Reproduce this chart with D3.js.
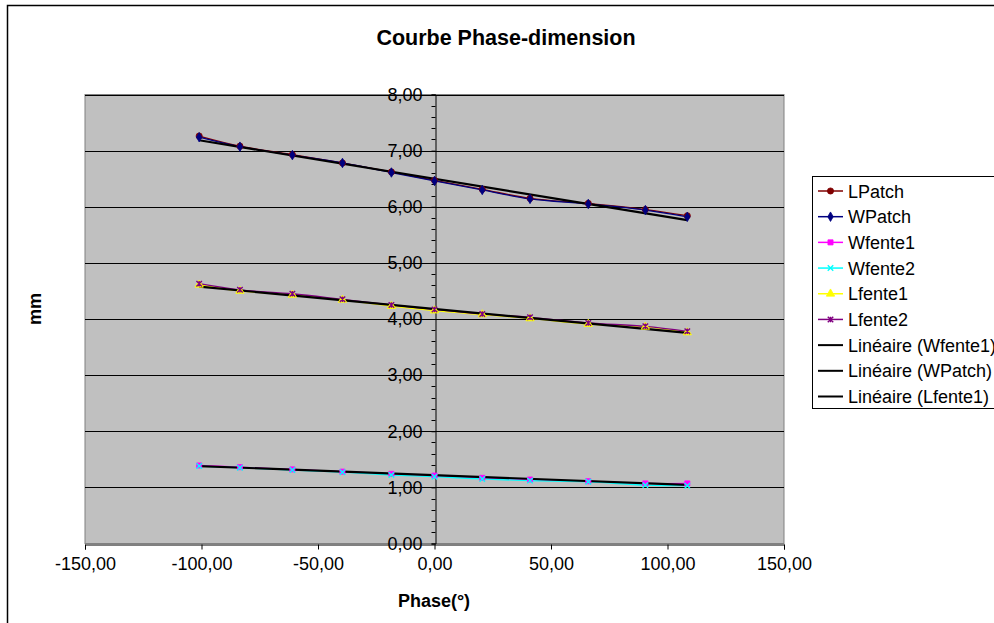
<!DOCTYPE html>
<html>
<head>
<meta charset="utf-8">
<script src="https://cdn.jsdelivr.net/npm/d3@7"></script>
<style>
  html, body { margin: 0; padding: 0; background: #fff; }
  svg { display: block; font-family: "Liberation Sans", Arial, sans-serif; }
</style>
</head>
<body>
<svg id="chart" width="994" height="623"></svg>
<script>
// ---- data ----
const phase = [-101, -83.5, -61, -39.5, -18.5, 0, 20.5, 41, 66, 90.5, 108.5];
const LPatch  = [7.26, 7.08, 6.93, 6.78, 6.62, 6.47, 6.31, 6.15, 6.06, 5.95, 5.84];
const WPatch  = [7.24, 7.07, 6.92, 6.78, 6.61, 6.46, 6.30, 6.14, 6.05, 5.94, 5.82];
const Wfente1 = [1.39, 1.36, 1.32, 1.28, 1.24, 1.21, 1.17, 1.14, 1.11, 1.07, 1.07];
const Wfente2 = [1.38, 1.35, 1.31, 1.27, 1.22, 1.19, 1.15, 1.12, 1.10, 1.04, 1.03];
const Lfente1 = [4.61, 4.50, 4.43, 4.34, 4.23, 4.15, 4.08, 4.01, 3.91, 3.86, 3.76];
const Lfente2 = [4.63, 4.52, 4.45, 4.35, 4.25, 4.17, 4.09, 4.03, 3.93, 3.87, 3.78];
const xTicks = [-150, -100, -50, 0, 50, 100, 150];
const yTicks = [0, 1, 2, 3, 4, 5, 6, 7, 8];
const seriesNames = ["LPatch", "WPatch", "Wfente1", "Wfente2", "Lfente1", "Lfente2"];
const trendNames = ["Wfente1", "WPatch", "Lfente1"];

const seriesValues = { LPatch, WPatch, Wfente1, Wfente2, Lfente1, Lfente2 };
const colors = { LPatch: "#800000", WPatch: "#000080", Wfente1: "#FF00FF", Wfente2: "#00FFFF", Lfente1: "#FFFF00", Lfente2: "#800080" };

// custom symbols
const symX = { draw(ctx, size) { const r = Math.sqrt(size) / 2; ctx.moveTo(-r, -r); ctx.lineTo(r, r); ctx.moveTo(r, -r); ctx.lineTo(-r, r); } };
const symStar = { draw(ctx, size) { const r = Math.sqrt(size) / 2; ctx.moveTo(-r, -r); ctx.lineTo(r, r); ctx.moveTo(r, -r); ctx.lineTo(-r, r); ctx.moveTo(0, -r); ctx.lineTo(0, r); } };
const markers = {
  LPatch:  { type: d3.symbolCircle, size: 30, fill: true },
  WPatch:  { type: d3.symbolDiamond, size: 26, fill: true },
  Wfente1: { type: d3.symbolSquare, size: 26, fill: true },
  Wfente2: { type: symX, size: 30, fill: false },
  Lfente1: { type: d3.symbolTriangle, size: 30, fill: true },
  Lfente2: { type: symStar, size: 30, fill: false }
};

const fmt = d => d3.format(".2f")(d).replace(".", ",").replace("\u2212", "-");

const svg = d3.select("#chart");

// chart border
svg.append("rect").attr("x", 7.5).attr("y", 5.5).attr("width", 1100).attr("height", 800)
  .attr("fill", "#fff").attr("stroke", "#000").attr("stroke-width", 1.5);

// title
svg.append("text").attr("x", 506).attr("y", 45).attr("text-anchor", "middle")
  .attr("font-size", 21.5).attr("font-weight", "bold").text("Courbe Phase-dimension");

const plot = { left: 85, right: 784, top: 94.5, bottom: 543.5 };
const x = d3.scaleLinear().domain([-150, 150]).range([plot.left, plot.right]);
const y = d3.scaleLinear().domain([0, 8]).range([plot.bottom, plot.top]);

// plot area
svg.append("rect").attr("x", plot.left).attr("y", plot.top)
  .attr("width", plot.right - plot.left).attr("height", plot.bottom - plot.top)
  .attr("fill", "#C0C0C0").attr("stroke", "#808080").attr("stroke-width", 1);

// gridlines
svg.append("g").selectAll("line").data(yTicks.filter(d => d > 0)).join("line")
  .attr("x1", plot.left).attr("x2", plot.right)
  .attr("y1", d => Math.round(y(d)) + 0.5).attr("y2", d => Math.round(y(d)) + 0.5)
  .attr("stroke", "#000").attr("stroke-width", 1);

// y axis at x=0
const yAxis = d3.axisLeft(y).tickValues(yTicks).tickSize(4).tickPadding(9).tickFormat(fmt);
const gy = svg.append("g").attr("transform", `translate(${Math.round(x(0)) + 0.5},0)`).call(yAxis);
gy.select(".domain").attr("stroke", "#000");
gy.selectAll("text").attr("font-size", 18).attr("font-family", "Liberation Sans, Arial, sans-serif").attr("fill", "#000");
// minor ticks
const minor = d3.range(0, 8.001, 0.2).filter(v => Math.abs(v - Math.round(v)) > 0.01);
gy.append("g").selectAll("line").data(minor).join("line")
  .attr("x1", -4).attr("x2", 0)
  .attr("y1", d => Math.round(y(d)) + 0.5).attr("y2", d => Math.round(y(d)) + 0.5)
  .attr("stroke", "#000");

// x axis at y=0
const xAxis = d3.axisBottom(x).tickValues(xTicks).tickSize(5).tickPadding(8).tickFormat(fmt);
const gx = svg.append("g").attr("transform", `translate(0,${Math.round(y(0)) + 0.5})`).call(xAxis);
gx.select(".domain").attr("stroke", "#000");
gx.selectAll("text").attr("font-size", 18).attr("font-family", "Liberation Sans, Arial, sans-serif").attr("fill", "#000");

// axis titles
svg.append("text").attr("x", 434).attr("y", 607).attr("text-anchor", "middle")
  .attr("font-size", 18).attr("font-weight", "bold").text("Phase(°)");
svg.append("text").attr("transform", "translate(41,309) rotate(-90)").attr("text-anchor", "middle")
  .attr("font-size", 18).attr("font-weight", "bold").text("mm");

// series lines
const line = d3.line().x(d => x(d[0])).y(d => y(d[1])).curve(d3.curveCatmullRom.alpha(0.5));
const gLines = svg.append("g");
seriesNames.forEach(name => {
  const pts = phase.map((p, i) => [p, seriesValues[name][i]]);
  gLines.append("path").attr("d", line(pts)).attr("fill", "none")
    .attr("stroke", colors[name]).attr("stroke-width", 1.3);
});

// trend lines (linear regression of the series)
function regress(xs, ys) {
  const n = xs.length, mx = d3.mean(xs), my = d3.mean(ys);
  let sxy = 0, sxx = 0;
  for (let i = 0; i < n; i++) { sxy += (xs[i] - mx) * (ys[i] - my); sxx += (xs[i] - mx) ** 2; }
  const b = sxy / sxx; return { a: my - b * mx, b };
}
const gTrend = svg.append("g");
trendNames.forEach(name => {
  const r = regress(phase, seriesValues[name]);
  const x0 = d3.min(phase), x1 = d3.max(phase);
  gTrend.append("line").attr("x1", x(x0)).attr("x2", x(x1))
    .attr("y1", y(r.a + r.b * x0)).attr("y2", y(r.a + r.b * x1))
    .attr("stroke", "#000").attr("stroke-width", 2.2);
});

// markers
const gMarks = svg.append("g");
seriesNames.forEach(name => {
  const m = markers[name];
  const sym = d3.symbol().type(m.type).size(m.size);
  gMarks.append("g").selectAll("path").data(phase.map((p, i) => [p, seriesValues[name][i]])).join("path")
    .attr("transform", d => `translate(${x(d[0])},${y(d[1])})`)
    .attr("d", sym())
    .attr("fill", m.fill ? colors[name] : "none")
    .attr("stroke", colors[name]).attr("stroke-width", m.fill ? 0.8 : 1.4);
});

// legend
const legend = svg.append("g");
legend.append("rect").attr("x", 812.5).attr("y", 176.5).attr("width", 300).attr("height", 232)
  .attr("fill", "#fff").attr("stroke", "#000").attr("stroke-width", 1);
const legendItems = seriesNames.map(n => ({ label: n, name: n }))
  .concat(trendNames.map(n => ({ label: `Linéaire (${n})`, name: null })));
const rowY = d3.scaleLinear().domain([0, 8]).range([191, 396.5]);
legendItems.forEach((it, i) => {
  const cy = rowY(i);
  const col = it.name ? colors[it.name] : "#000";
  legend.append("line").attr("x1", 818).attr("x2", 843).attr("y1", cy).attr("y2", cy)
    .attr("stroke", col).attr("stroke-width", it.name ? 1.5 : 2);
  if (it.name) {
    const m = markers[it.name];
    legend.append("path").attr("transform", `translate(830.5,${cy})`)
      .attr("d", d3.symbol().type(m.type).size(m.size)())
      .attr("fill", m.fill ? col : "none").attr("stroke", col).attr("stroke-width", m.fill ? 0.8 : 1.4);
  }
  legend.append("text").attr("x", 848).attr("y", cy + 6.5).attr("font-size", 18).text(it.label);
});
</script>
</body>
</html>
